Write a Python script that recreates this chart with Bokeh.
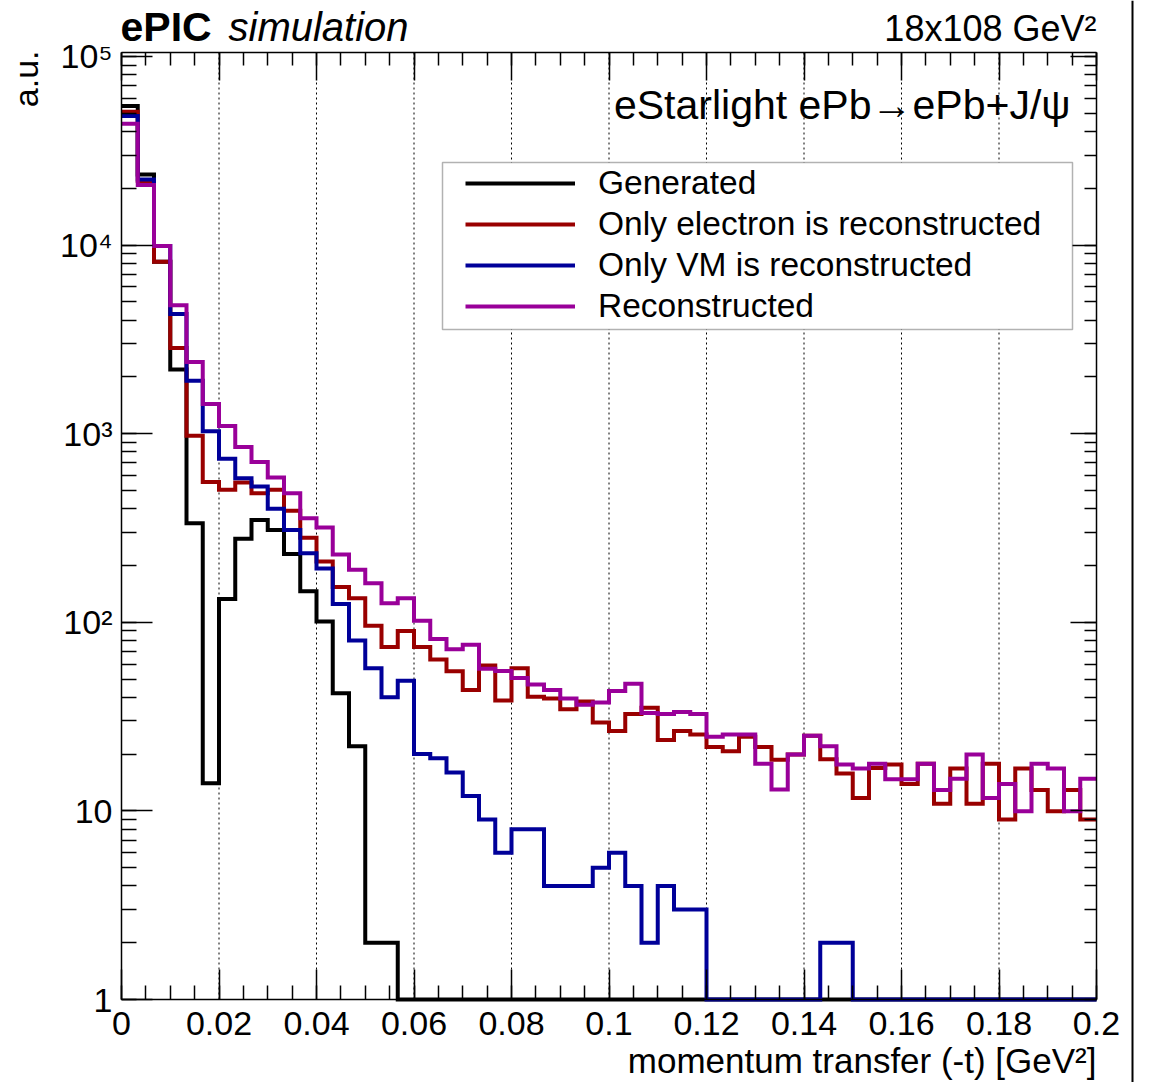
import math
from bokeh.plotting import figure
from bokeh.models import (LogAxis, LinearAxis, LogTicker, SingleIntervalTicker,
                          CustomJSTickFormatter, Label, BoxAnnotation, Range1d, Span)
from bokeh.embed import file_html
from bokeh.resources import INLINE

# ---------------- data ----------------
t_min, t_max, n_bins = 0.0, 0.2, 60
t_edges = [t_min + i * (t_max - t_min) / n_bins for i in range(n_bins + 1)]
x_major_ticks = [0.02, 0.04, 0.06, 0.08, 0.10, 0.12, 0.14, 0.16, 0.18]

generated = [54700, 23700, 8150, 2190, 335, 14, 133, 277, 349, 309,
             230, 146, 101, 42, 22, 2, 2, 0, 0, 0,
             0, 0, 0, 0, 0, 0, 0, 0, 0, 0,
             0, 0, 0, 0, 0, 0, 0, 0, 0, 0,
             0, 0, 0, 0, 0, 0, 0, 0, 0, 0,
             0, 0, 0, 0, 0, 0, 0, 0, 0, 0]

only_electron = [51000, 21900, 8150, 2850, 975, 555, 504, 551, 484, 505,
                 390, 281, 210, 154, 134, 96, 74, 90, 74, 63.5,
                 55, 43.7, 59, 38.5, 57, 40.3, 39.4, 34.6, 38, 29.4,
                 26.5, 32.6, 35.2, 23.8, 26.5, 25.4, 21.8, 20.7, 24.7, 21.8,
                 18.7, 19.9, 25, 18.8, 15.8, 11.7, 16.9, 17.6, 13.9, 17.8,
                 10.9, 16.8, 10.9, 17.8, 9.0, 16.8, 12.9, 9.95, 12.9, 9.0]

only_vm = [48400, 22300, 9880, 4310, 1910, 1030, 736, 581, 525, 400,
           309, 232, 193, 125, 80, 57, 40, 49, 20, 19,
           16, 12, 9, 6, 8, 8, 4, 4, 4, 5,
           6, 4, 2, 4, 3, 3, 0, 0, 0, 0,
           0, 0, 0, 2, 2, 0, 0, 0, 0, 0,
           0, 0, 0, 0, 0, 0, 0, 0, 0, 0]

reconstructed = [44000, 20800, 9880, 4800, 2400, 1436, 1100, 849, 707, 586,
                 484, 356, 318, 229, 190, 161, 126, 134, 102, 81.5,
                 72, 76, 56.7, 55.1, 50.6, 46.8, 43.7, 39.4, 36.5, 37.6,
                 43.2, 47.2, 33, 32.6, 33.4, 32.6, 24.7, 25.4, 25.4, 17.8,
                 13, 19.9, 25, 22, 17.6, 16.8, 17.8, 14.7, 14.7, 17.8,
                 12.9, 14.8, 19.9, 11.7, 13.9, 9.95, 17.8, 16.8, 9.95, 14.8]

series_names = ["Generated", "Only electron is reconstructed",
                "Only VM is reconstructed", "Reconstructed"]
series_values = [generated, only_electron, only_vm, reconstructed]
series_colors = ["#000000", "#990000", "#000099", "#990099"]

x_title = "momentum transfer (-t) [GeV\u00b2]"
y_title = "a.u."

# ---------------- layout constants (pixels) ----------------
FONT = "Liberation Sans"
W, H = 1152, 1082
FL, FT, FR, FB = 121, 52, 1096, 999      # data box in canvas pixels
Y_MIN, Y_MAX = 1.0, 1.05e5
BASE_SHIFT = 14  # empirical baseline correction of Label

def px_x(px):  # canvas px -> data x
    return t_min + (px - FL) / (FR - FL) * (t_max - t_min)

def px_y(py):  # canvas px (from top) -> data y (log scale)
    lo, hi = math.log10(Y_MIN), math.log10(Y_MAX)
    return 10 ** (lo + (FB - py) / (FB - FT) * (hi - lo))

# the frame covers the whole canvas; axes are pinned at the data box edges
p = figure(frame_width=W, frame_height=H,
           x_range=Range1d(px_x(0), px_x(W)), y_range=Range1d(px_y(H), px_y(0)),
           y_axis_type="log", x_axis_location=None, y_axis_location=None,
           output_backend="svg", toolbar_location=None,
           min_border_left=0, min_border_right=0, min_border_top=0,
           min_border_bottom=0, background_fill_color="white",
           border_fill_color="white", outline_line_color=None)
p.title.visible = False
p.grid.visible = False

# ---------------- axes ----------------
xticker = SingleIntervalTicker(interval=0.02, num_minor_ticks=4)
xfmt = CustomJSTickFormatter(code="return String(Math.round(tick*100)/100);")
yfmt = CustomJSTickFormatter(code="""
const e = Math.round(Math.log10(tick));
const s = ["", "", "\\u00b2", "\\u00b3", "\\u2074", "\\u2075"];
if (e <= 0) return "1";
if (e == 1) return "10";
return "10" + s[e];
""")
blank = CustomJSTickFormatter(code="return '';")

def style_axis(ax, major, minor):
    ax.axis_line_color = "black"
    ax.axis_line_width = 1.5
    ax.major_tick_line_color = "black"
    ax.major_tick_line_width = 1.5
    ax.minor_tick_line_color = "black"
    ax.minor_tick_line_width = 1.5
    ax.major_tick_in = major
    ax.major_tick_out = 0
    ax.minor_tick_in = minor
    ax.minor_tick_out = 0
    ax.major_label_text_font = FONT
    ax.major_label_text_color = "black"
    ax.major_label_text_font_size = "34px"

bottom = LinearAxis(fixed_location=Y_MIN, bounds=(t_min, t_max), ticker=xticker,
                    formatter=xfmt)
style_axis(bottom, 30, 14)
bottom.major_label_standoff = 12
p.add_layout(bottom, "below")

top = LinearAxis(fixed_location=Y_MAX, bounds=(t_min, t_max), ticker=xticker,
                 formatter=blank)
style_axis(top, 28, 13)
p.add_layout(top, "above")

left = LogAxis(fixed_location=t_min, bounds=(Y_MIN, Y_MAX),
               ticker=LogTicker(mantissas=[1], num_minor_ticks=10), formatter=yfmt)
style_axis(left, 31, 15)
left.major_label_standoff = 9
p.add_layout(left, "left")

right = LogAxis(fixed_location=t_max, bounds=(Y_MIN, Y_MAX),
                ticker=LogTicker(mantissas=[1], num_minor_ticks=10), formatter=blank)
style_axis(right, 26, 12)
p.add_layout(right, "right")

# dotted vertical grid lines at the major x ticks
p.segment(x0=x_major_ticks, x1=x_major_ticks, y0=Y_MIN, y1=Y_MAX,
          line_color="black", line_width=1, line_dash="2 3")

# legend frame (box), added before the glyphs so the legend draws over it
box = BoxAnnotation(left=px_x(442), right=px_x(1072), top=px_y(162), bottom=px_y(329),
                    fill_color="white", fill_alpha=1.0, line_color="black",
                    line_width=1.5)
p.add_layout(box)

# canvas border line on the right
p.add_layout(Span(location=px_x(1132), dimension="height", line_color="black",
                  line_width=2))

# ---------------- histograms ----------------
for name, vals, col in zip(series_names, series_values, series_colors):
    ys = [max(v, Y_MIN) for v in vals] + [max(vals[-1], Y_MIN)]
    p.step(t_edges, ys, mode="after", line_color=col, line_width=4,
           line_join="miter", legend_label=name)

leg = p.legend[0]
leg.location = (463, H - 328)
leg.border_line_alpha = 0
leg.background_fill_alpha = 0
leg.padding = 2
leg.spacing = 1
leg.margin = 0
leg.glyph_width = 110
leg.glyph_height = 40
leg.label_height = 40
leg.label_standoff = 23
leg.label_text_font = FONT
leg.label_text_font_size = "33.5px"
leg.label_text_color = "black"

# ---------------- texts ----------------
def lab(text, px, py, size, align="left", style="normal"):
    p.add_layout(Label(x=px, y=H - (py - BASE_SHIFT), x_units="screen", y_units="screen",
                       text=text, text_font=FONT, text_font_size=size,
                       text_font_style=style, text_align=align,
                       text_baseline="alphabetic", text_color="black"))

lab("ePIC", 120, 40, "41px", style="bold")
lab("simulation", 228, 40, "40px", style="italic")
lab("18x108 GeV\u00b2", 1096, 42, "36px", align="right")
lab("eStarlight ePb\u2192ePb+J/\u03c8", 1070, 118, "41px", align="right")
lab(x_title, 1096, 1074, "35px", align="right")
p.add_layout(Label(x=39 - BASE_SHIFT, y=H - 50, x_units="screen", y_units="screen",
                   text=y_title, text_font=FONT, text_font_size="34px",
                   text_align="right", text_baseline="alphabetic",
                   text_color="black", angle=math.pi / 2))

open("out.html", "w").write(file_html(p, INLINE))
